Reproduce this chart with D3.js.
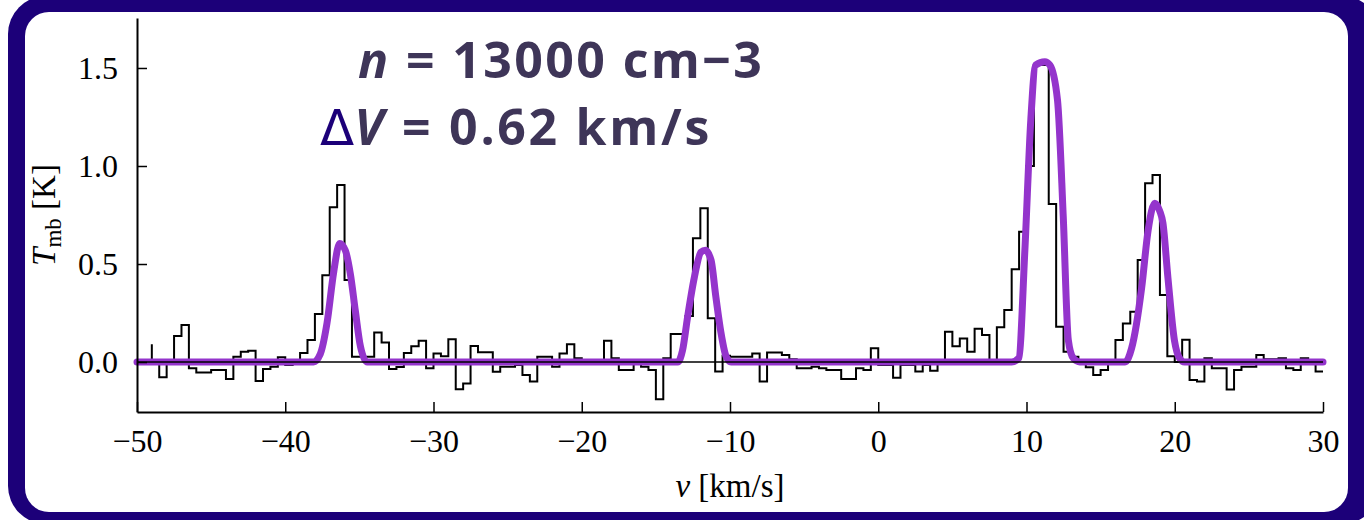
<!DOCTYPE html>
<html><head><meta charset="utf-8">
<script src="https://cdn.jsdelivr.net/npm/d3@7"></script>
<style>body{margin:0;background:#fff}svg{display:block}</style>
</head><body><svg id="c" width="1364" height="520"></svg>
<script>
// spectrum: channels of 0.5 km/s starting at -49 km/s
const chanStart = -49, chanWidth = 0.5;
const tmb = [
 0.0,-0.078,0.0,0.133,0.189,-0.032,-0.053,-0.054,-0.041,-0.041,
 -0.087,0.027,0.053,0.058,-0.097,-0.036,-0.024,0.024,-0.015,0.0,
 0.046,0.112,0.245,0.442,0.789,0.903,0.418,0.027,0.027,0.027,
 0.15,0.099,-0.036,-0.025,0.046,0.08,0.109,-0.032,0.044,0.03,
 0.116,-0.139,-0.109,0.082,0.05,0.05,-0.05,-0.024,-0.024,-0.015,
 -0.066,-0.1,0.027,0.027,-0.024,0.044,0.09,0.019,0.01,0.0,
 0.0,0.109,0.019,-0.041,-0.041,0.0,-0.024,-0.041,-0.19,0.019,
 0.143,0.143,0.235,0.631,0.784,0.223,-0.049,0.032,0.027,0.027,
 0.027,0.044,-0.1,0.049,0.049,0.036,0.014,-0.032,-0.032,-0.024,
 -0.032,-0.041,-0.041,-0.087,-0.087,-0.032,-0.041,0.07,-0.015,-0.015,
 -0.08,-0.015,-0.015,-0.049,-0.015,-0.045,-0.007,0.155,0.08,0.12,
 0.053,0.17,0.138,0.0,0.177,0.265,0.473,0.665,1.0,1.515,
 1.515,0.806,0.18,0.053,0.027,0.0,-0.027,-0.066,-0.041,0.0,
 0.112,0.197,0.257,0.52,0.912,0.954,0.342,0.03,0.0,0.114,
 -0.092,-0.1,0.019,-0.032,-0.032,-0.14,-0.041,-0.024,-0.024,0.036,
 0.014,0.014,0.019,-0.032,-0.041,0.019,-0.007,-0.049
];
const firstSpike = 0.09; // short vertical tick at the first channel edge
// model curve points
const modelV = [-50,-38.09,-37.64,-37.18,-36.73,-36.33,-35.95,-35.61,-35.27,-34.93,-34.48,
 -13.53,-13.2,-12.86,-12.41,-11.96,-11.66,-11.28,-10.95,-10.61,-10.27,-9.93,
 9.0,9.48,9.89,10.29,10.61,11.24,11.58,12.09,12.48,12.82,13.15,13.6,
 16.65,17.09,17.77,18.2,18.65,18.99,19.2,19.54,19.98,20.32,20.66,30];
const modelT = [0,0,0.04,0.2,0.46,0.605,0.57,0.45,0.26,0.08,0,
 0,0.06,0.23,0.43,0.56,0.57,0.52,0.33,0.15,0.03,0,
 0,0.02,0.57,1.235,1.515,1.532,1.515,1.337,0.74,0.112,0.02,0,
 0,0.07,0.38,0.67,0.81,0.77,0.71,0.43,0.11,0.02,0,0];
const xTicks = [-50,-40,-30,-20,-10,0,10,20,30];
const yTicks = [0.0,0.5,1.0,1.5];
const yTickLabels = ["0.0","0.5","1.0","1.5"];

const svg = d3.select('#c');
// frame
svg.append('rect').attr('x',8).attr('y',-4).attr('width',1372).attr('height',528).attr('rx',38).attr('fill','#1c0079');
svg.append('rect').attr('x',25).attr('y',12).attr('width',1323).attr('height',500).attr('rx',24).attr('fill','#fff');

const x = d3.scaleLinear().domain([-50,30]).range([137,1323]);
const y = d3.scaleLinear().domain([-0.255,1.755]).range([412,18]);

// spectrum step line
const pts = [[chanStart, firstSpike]].concat(tmb.map((t,k)=>[chanStart+k*chanWidth, t]));
pts.push([chanStart+tmb.length*chanWidth, tmb[tmb.length-1]]);
svg.append('path').datum(pts)
  .attr('d', d3.line().x(d=>x(d[0])).y(d=>y(d[1])).curve(d3.curveStepAfter))
  .attr('fill','none').attr('stroke','#000').attr('stroke-width',2).attr('stroke-linejoin','miter');

// model
svg.append('path').datum(modelV.map((v,i)=>[v,modelT[i]]))
  .attr('d', d3.line().x(d=>x(d[0])).y(d=>y(d[1])).curve(d3.curveMonotoneX))
  .attr('fill','none').attr('stroke','#9434cc').attr('stroke-width',7)
  .attr('stroke-linejoin','round').attr('stroke-linecap','round');

// zero line
svg.append('line').attr('x1',x(-50)).attr('x2',x(30)).attr('y1',y(0)).attr('y2',y(0))
  .attr('stroke','#000').attr('stroke-width',1.5);

const tickFont = "'Liberation Serif', 'Times New Roman', serif";
const fmtX = d => d<0 ? '\u2212'+Math.abs(d) : String(d);
const gx = svg.append('g').attr('transform',`translate(0,${y(-0.255)})`)
  .call(d3.axisBottom(x).tickValues(xTicks).tickSizeInner(-10).tickSizeOuter(0).tickPadding(17).tickFormat(fmtX));
const gy = svg.append('g').attr('transform',`translate(${x(-50)},0)`)
  .call(d3.axisLeft(y).tickValues(yTicks).tickSizeInner(-10).tickSizeOuter(0).tickPadding(19).tickFormat((d,i)=>yTickLabels[i]));
[gx,gy].forEach(g=>{
  g.select('.domain').attr('stroke','#000').attr('stroke-width',2);
  g.selectAll('.tick line').attr('stroke','#000').attr('stroke-width',1.5);
  g.selectAll('.tick text').attr('fill','#000').style('font-family',tickFont).style('font-size','32px');
});

// axis labels
const xl = svg.append('text').attr('x',730).attr('y',497).attr('text-anchor','middle')
  .style('font-family',tickFont).style('font-size','33px').attr('fill','#000');
xl.append('tspan').style('font-style','italic').text('v');
xl.append('tspan').text(' [km/s]');
const yl = svg.append('text').attr('transform','translate(55,215) rotate(-90)').attr('text-anchor','middle')
  .style('font-family',tickFont).style('font-size','33px').attr('fill','#000');
yl.append('tspan').style('font-style','italic').text('T');
yl.append('tspan').attr('dy',6).style('font-size','23px').text('mb');
yl.append('tspan').attr('dy',-6).text(' [K]');

// annotations
const annFont = "'Open Sans', 'Noto Sans', sans-serif";
const t1 = svg.append('text').attr('x',358).attr('y',78).style('font-family',annFont)
  .style('font-size','50px').style('font-weight',700).style('letter-spacing','2.4px').attr('fill','#3e3558');
t1.append('tspan').style('font-style','italic').text('n');
t1.append('tspan').text(' = 13000 cm\u22123');
const t2 = svg.append('text').attr('x',320).attr('y',145).style('font-family',annFont)
  .style('font-size','50px').attr('fill','#3e3558');
t2.append('tspan').style('font-weight',400).attr('fill','#1c0079').style('font-family',"'DejaVu Sans', sans-serif").text('\u0394');
t2.append('tspan').style('font-weight',700).style('font-style','italic').style('letter-spacing','2.7px').text('V');
t2.append('tspan').style('font-weight',700).style('letter-spacing','2.7px').text(' = 0.62 km/s');
</script></body></html>
